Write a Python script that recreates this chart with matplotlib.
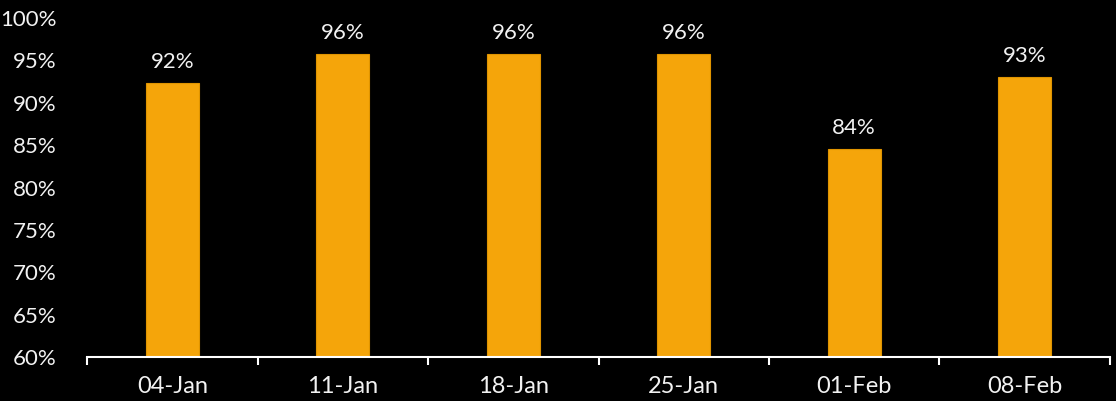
import matplotlib
matplotlib.use("Agg")
import matplotlib.pyplot as plt
from matplotlib.ticker import FixedLocator

categories = ["04-Jan", "11-Jan", "18-Jan", "25-Jan", "01-Feb", "08-Feb"]
values = [92.3, 95.7, 95.7, 95.7, 84.5, 93.1]
labels = ["92%", "96%", "96%", "96%", "84%", "93%"]
yticks = [60, 65, 70, 75, 80, 85, 90, 95, 100]

plt.rcParams['font.family'] = ['Lato', 'DejaVu Sans']
fig = plt.figure(figsize=(11.16, 4.01), dpi=100, facecolor='black')
ax = fig.add_axes([0.078, 0.1097, 0.9166, 0.8453])
ax.set_facecolor('black')

x = list(range(len(categories)))
ax.bar(x, values, width=0.31, color='#F5A50A', edgecolor='#E09400', linewidth=0.8, zorder=2)
for xi, v, lab in zip(x, values, labels):
    ax.text(xi, v + 1.3, lab, ha='center', va='bottom', color='#F2F2F2', fontsize=16)

ax.set_xlim(-0.5, len(categories) - 0.5)
ax.set_ylim(60, 100)
ax.set_yticks(yticks)
ax.set_yticklabels([f"{t}%" for t in yticks], color='#F2F2F2', fontsize=16)
ax.set_xticks(x)
ax.set_xticklabels(categories, color='#F2F2F2', fontsize=17)
ax.tick_params(axis='x', which='major', length=0, pad=14)
ax.tick_params(axis='y', length=0, pad=22)
ax.xaxis.set_minor_locator(FixedLocator([i - 0.5 for i in range(len(categories) + 1)]))
ax.tick_params(axis='x', which='minor', length=6, width=1.5, color='white', direction='out')
for s in ['top', 'right', 'left']:
    ax.spines[s].set_visible(False)
ax.spines['bottom'].set_color('white')
ax.spines['bottom'].set_linewidth(1.5)

fig.savefig('out.png', dpi=100, facecolor='black')
